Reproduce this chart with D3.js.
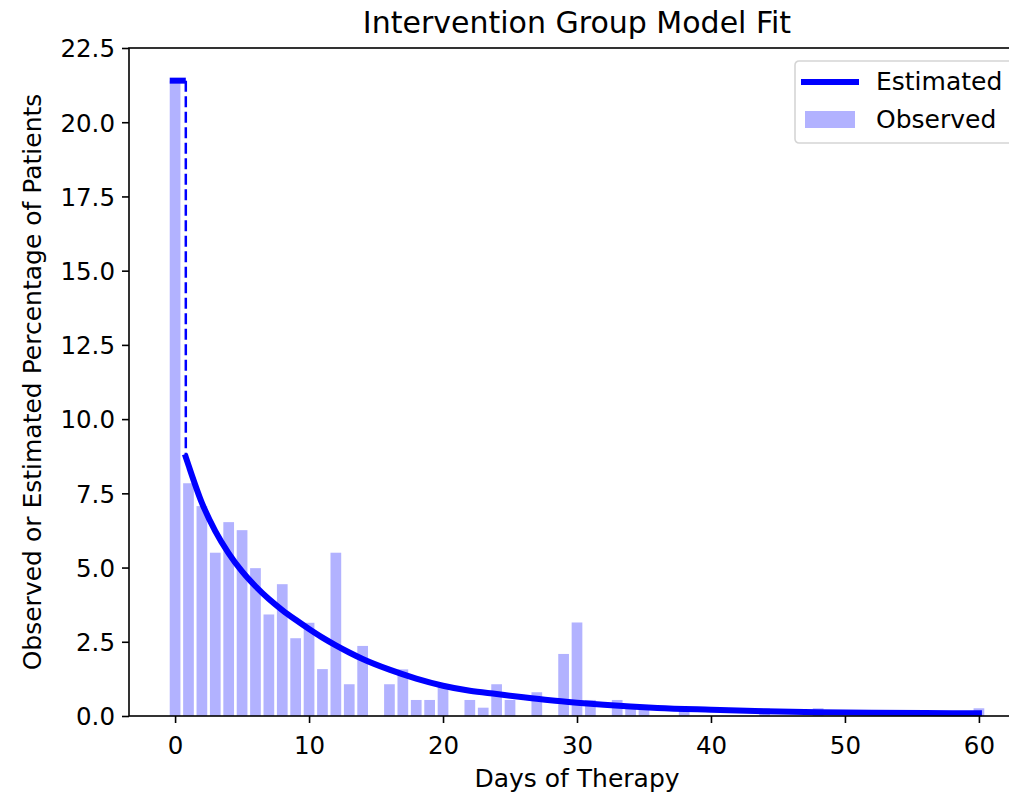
<!DOCTYPE html>
<html>
<head>
<meta charset="utf-8">
<script src="https://cdn.jsdelivr.net/npm/d3@7"></script>
<style>
  body { margin: 0; background: #fff; }
  text { font-family: "DejaVu Sans", sans-serif; fill: #000; }
</style>
</head>
<body>
<div id="chart"></div>
<script>
// observed share of patients by days of therapy (days with no patients are left out)
const obsDays = [0, 1, 2, 3, 4, 5, 6, 7, 8, 9, 10, 11, 12, 13, 14, 16, 17, 18, 19, 20,
  22, 23, 24, 25, 27, 29, 30, 31, 33, 34, 35, 38, 44, 48, 60];
const obsValues = [21.4, 7.84, 7.07, 5.50, 6.53, 6.26, 4.98, 3.42, 4.44, 2.62, 3.14, 1.58, 5.50, 1.07, 2.36, 1.07, 1.57, 0.54, 0.54, 1.05,
  0.54, 0.28, 1.07, 0.54, 0.80, 2.09, 3.15, 0.54, 0.54, 0.27, 0.27, 0.26, 0.26, 0.26, 0.26];

// estimated curve
const estDays = [0.8, 1, 2, 3, 4, 5, 6, 7, 8, 9, 10, 11, 12, 13, 14, 16, 18, 20, 22, 24, 26, 28,
  30, 32, 34, 36, 40, 44, 48, 52, 56, 60];
const estValues = [8.72, 8.45, 7.18, 6.23, 5.48, 4.87, 4.37, 3.94, 3.57, 3.24, 2.93, 2.64, 2.38, 2.14, 1.92, 1.56, 1.26, 1.02, 0.85, 0.74, 0.63, 0.53,
  0.45, 0.38, 0.32, 0.27, 0.21, 0.16, 0.13, 0.11, 0.10, 0.09];

// estimated share at zero days and the span it is drawn over
const zeroEstimate = 21.4;
const zeroSpan = [-0.4, 0.8];

const xTicks = [0, 10, 20, 30, 40, 50, 60];
const yTicks = [0, 2.5, 5, 7.5, 10, 12.5, 15, 17.5, 20, 22.5];

const title = 'Intervention Group Model Fit';
const xLabel = 'Days of Therapy';
const yLabel = 'Observed or Estimated Percentage of Patients';

const width = 1009;
const height = 793;
const margin = { top: 48, left: 129, bottom: 716, right: 1025 };

const x = d3.scaleLinear()
    .domain([-3.44, 63.44])
    .range([margin.left, margin.right]);

const y = d3.scaleLinear()
    .domain([0, 22.5])
    .range([margin.bottom, margin.top]);

const svg = d3.select('#chart').append('svg')
    .attr('width', width)
    .attr('height', height);

// bars
const barWidth = 0.8;
svg.append('g')
  .selectAll('rect')
  .data(obsDays.map((d, i) => ({ day: d, value: obsValues[i] })))
  .join('rect')
    .attr('x', d => x(d.day - barWidth / 2))
    .attr('width', x(barWidth) - x(0))
    .attr('y', d => y(d.value))
    .attr('height', d => y(0) - y(d.value))
    .attr('fill', 'blue')
    .attr('fill-opacity', 0.3);

// estimated
const line = d3.line()
    .x(d => x(d[0]))
    .y(d => y(d[1]))
    .curve(d3.curveMonotoneX);

svg.append('path')
    .datum(zeroSpan.map(d => [d, zeroEstimate]))
    .attr('d', line)
    .attr('fill', 'none')
    .attr('stroke', 'blue')
    .attr('stroke-width', 6);

svg.append('line')
    .attr('x1', x(zeroSpan[1]))
    .attr('x2', x(zeroSpan[1]))
    .attr('y1', y(zeroEstimate))
    .attr('y2', y(estValues[0]))
    .attr('stroke', 'blue')
    .attr('stroke-width', 2.5)
    .attr('stroke-dasharray', '11,4.5');

svg.append('path')
    .datum(estDays.map((d, i) => [d, estValues[i]]))
    .attr('d', line)
    .attr('fill', 'none')
    .attr('stroke', 'blue')
    .attr('stroke-width', 6)
    .attr('stroke-linecap', 'square');

// frame
svg.append('rect')
    .attr('x', margin.left)
    .attr('y', margin.top)
    .attr('width', margin.right - margin.left)
    .attr('height', margin.bottom - margin.top)
    .attr('fill', 'none')
    .attr('stroke', '#000')
    .attr('stroke-width', 1.6);

// axes
const xAxis = svg.append('g')
    .attr('transform', `translate(0,${margin.bottom})`)
    .call(d3.axisBottom(x).tickValues(xTicks).tickFormat(d3.format('d')).tickSize(7).tickPadding(7));

const yAxis = svg.append('g')
    .attr('transform', `translate(${margin.left},0)`)
    .call(d3.axisLeft(y).tickValues(yTicks).tickFormat(d3.format('.1f')).tickSize(7).tickPadding(7));

[xAxis, yAxis].forEach(g => {
  g.select('.domain').remove();
  g.selectAll('.tick line').attr('stroke', '#000').attr('stroke-width', 1.6);
  g.selectAll('.tick text')
      .attr('font-size', 24.5)
      .attr('font-family', '"DejaVu Sans", sans-serif')
      .attr('fill', '#000');
});
xAxis.selectAll('.tick text').attr('dy', null).attr('y', 38);
yAxis.selectAll('.tick text').attr('dy', '0.36em');

// labels
svg.append('text')
    .attr('x', (margin.left + margin.right) / 2)
    .attr('y', 33)
    .attr('text-anchor', 'middle')
    .attr('font-size', 30)
    .text(title);

svg.append('text')
    .attr('x', (margin.left + margin.right) / 2)
    .attr('y', 787)
    .attr('text-anchor', 'middle')
    .attr('font-size', 25)
    .text(xLabel);

svg.append('text')
    .attr('transform', `translate(41,${(margin.top + margin.bottom) / 2}) rotate(-90)`)
    .attr('text-anchor', 'middle')
    .attr('font-size', 25)
    .text(yLabel);

// legend
const legend = svg.append('g').attr('transform', 'translate(795,61)');

legend.append('rect')
    .attr('width', 240)
    .attr('height', 82)
    .attr('rx', 4)
    .attr('fill', '#fff')
    .attr('fill-opacity', 0.8)
    .attr('stroke', '#d5d5d5')
    .attr('stroke-width', 1.6);

legend.append('line')
    .attr('x1', 6)
    .attr('x2', 64)
    .attr('y1', 21)
    .attr('y2', 21)
    .attr('stroke', 'blue')
    .attr('stroke-width', 6);

legend.append('rect')
    .attr('x', 10)
    .attr('y', 50)
    .attr('width', 50)
    .attr('height', 17)
    .attr('fill', 'blue')
    .attr('fill-opacity', 0.3);

legend.selectAll('.label')
  .data(['Estimated', 'Observed'])
  .join('text')
    .attr('class', 'label')
    .attr('x', 81)
    .attr('y', (d, i) => 29 + i * 38)
    .attr('font-size', 25)
    .text(d => d);
</script>
</body>
</html>
